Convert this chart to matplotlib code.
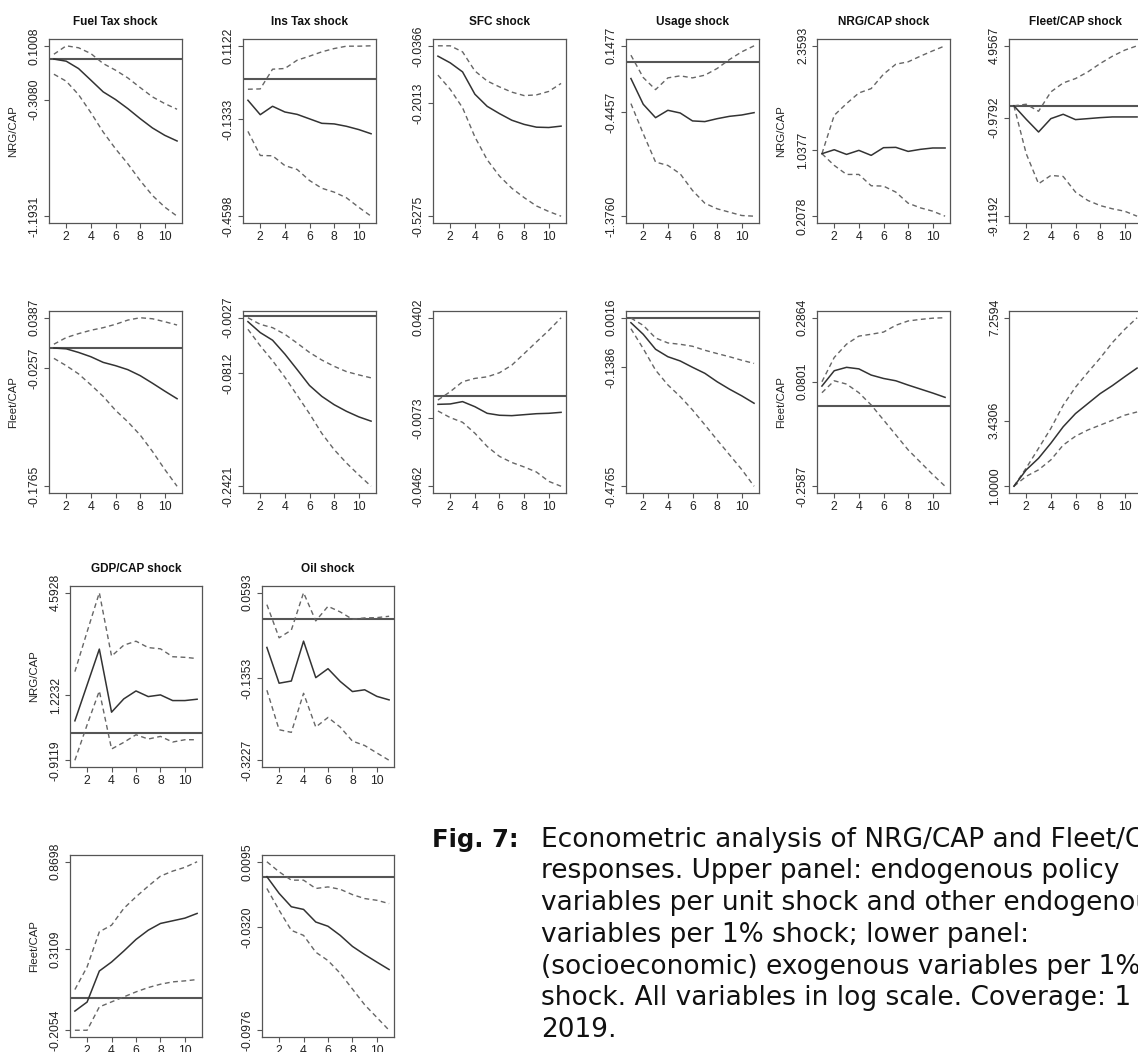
import matplotlib
matplotlib.use("Agg")
import matplotlib.pyplot as plt

steps = list(range(1, 12))

# ---- NRG/CAP responses (row 1) ----
fuel_nrg = [0.0, -0.016, -0.072, -0.160, -0.249, -0.307, -0.376, -0.452, -0.523, -0.579, -0.622]
fuel_nrg_hi = [0.037, 0.1008, 0.086, 0.042, -0.034, -0.084, -0.143, -0.216, -0.287, -0.338, -0.381]
fuel_nrg_lo = [-0.115, -0.168, -0.270, -0.407, -0.554, -0.681, -0.795, -0.922, -1.036, -1.124, -1.1931]

ins_nrg = [-0.0706, -0.119, -0.0908, -0.110, -0.118, -0.133, -0.148, -0.150, -0.158, -0.169, -0.183]
ins_nrg_hi = [-0.0336, -0.0325, 0.0337, 0.036, 0.064, 0.0774, 0.092, 0.103, 0.111, 0.111, 0.1122]
ins_nrg_lo = [-0.175, -0.256, -0.257, -0.290, -0.303, -0.340, -0.366, -0.379, -0.398, -0.430, -0.4598]

sfc_nrg = [-0.0664, -0.0857, -0.1117, -0.176, -0.211, -0.232, -0.251, -0.263, -0.271, -0.272, -0.268]
sfc_nrg_hi = [-0.0366, -0.0366, -0.054, -0.109, -0.138, -0.155, -0.170, -0.180, -0.178, -0.168, -0.145]
sfc_nrg_lo = [-0.121, -0.162, -0.215, -0.299, -0.365, -0.412, -0.447, -0.474, -0.498, -0.514, -0.5275]

usage_nrg = [-0.145, -0.375, -0.495, -0.429, -0.453, -0.524, -0.530, -0.504, -0.483, -0.471, -0.450]
usage_nrg_hi = [0.064, -0.136, -0.244, -0.139, -0.121, -0.139, -0.115, -0.055, 0.025, 0.094, 0.1477]
usage_nrg_lo = [-0.369, -0.638, -0.892, -0.922, -0.997, -1.146, -1.260, -1.310, -1.340, -1.370, -1.376]

nrg_nrg = [0.997, 1.047, 0.988, 1.039, 0.976, 1.073, 1.077, 1.026, 1.052, 1.069, 1.069]
nrg_nrg_hi = [0.997, 1.482, 1.630, 1.764, 1.819, 2.001, 2.127, 2.157, 2.229, 2.296, 2.3593]
nrg_nrg_lo = [0.997, 0.849, 0.735, 0.735, 0.592, 0.588, 0.512, 0.372, 0.313, 0.271, 0.2078]

fleet_nrg = [0.0, -1.115, -2.164, -1.06, -0.70, -1.14, -1.06, -0.977, -0.92, -0.92, -0.92]
fleet_nrg_hi = [0.0, 0.13, -0.45, 1.15, 1.89, 2.25, 2.80, 3.49, 4.10, 4.60, 4.9567]
fleet_nrg_lo = [0.0, -3.96, -6.44, -5.75, -5.84, -7.13, -7.82, -8.24, -8.51, -8.71, -9.1192]

# ---- Fleet/CAP responses (row 2) ----
fuel_fleet = [0.0, -0.001, -0.0056, -0.0111, -0.0183, -0.0225, -0.0276, -0.0352, -0.0449, -0.0550, -0.0647]
fuel_fleet_hi = [0.0049, 0.0134, 0.0184, 0.0227, 0.0260, 0.0303, 0.0357, 0.0387, 0.0374, 0.0336, 0.0294]
fuel_fleet_lo = [-0.0132, -0.0225, -0.0330, -0.0470, -0.0617, -0.0795, -0.0942, -0.111, -0.132, -0.155, -0.1765]

ins_fleet = [-0.0083, -0.0238, -0.0346, -0.0543, -0.0764, -0.0989, -0.1144, -0.1262, -0.1356, -0.1435, -0.1496]
ins_fleet_hi = [-0.0027, -0.0121, -0.0168, -0.0262, -0.0388, -0.0520, -0.0628, -0.0717, -0.0792, -0.0839, -0.0881]
ins_fleet_lo = [-0.0191, -0.0426, -0.0637, -0.0872, -0.113, -0.139, -0.167, -0.190, -0.209, -0.226, -0.2421]

sfc_fleet = [-0.0042, -0.0040, -0.0028, -0.0054, -0.0088, -0.0098, -0.0100, -0.0095, -0.0090, -0.0088, -0.0083]
sfc_fleet_hi = [-0.0020, 0.0023, 0.0074, 0.0091, 0.0099, 0.0120, 0.0159, 0.0218, 0.0278, 0.0337, 0.0402]
sfc_fleet_lo = [-0.0076, -0.0110, -0.0134, -0.0190, -0.0258, -0.0309, -0.0340, -0.0363, -0.0389, -0.0437, -0.0462]

usage_fleet = [-0.0125, -0.0454, -0.0878, -0.109, -0.121, -0.139, -0.156, -0.180, -0.201, -0.220, -0.241]
usage_fleet_hi = [0.0007, -0.0200, -0.0558, -0.0699, -0.0737, -0.0793, -0.0906, -0.100, -0.109, -0.119, -0.128]
usage_fleet_lo = [-0.0295, -0.0860, -0.147, -0.189, -0.222, -0.260, -0.302, -0.345, -0.387, -0.429, -0.4765]

nrg_fleet = [0.0654, 0.115, 0.126, 0.121, 0.101, 0.090, 0.0825, 0.0686, 0.0557, 0.0428, 0.0289]
nrg_fleet_hi = [0.0793, 0.158, 0.201, 0.227, 0.233, 0.240, 0.262, 0.276, 0.281, 0.285, 0.2864]
nrg_fleet_lo = [0.0439, 0.0825, 0.0718, 0.0439, 0.0042, -0.0441, -0.0924, -0.141, -0.181, -0.221, -0.2587]

fleet_fleet = [1.0, 1.61, 2.04, 2.60, 3.21, 3.70, 4.07, 4.44, 4.74, 5.07, 5.39]
fleet_fleet_hi = [1.0, 1.68, 2.41, 3.15, 4.01, 4.68, 5.23, 5.76, 6.34, 6.83, 7.2594]
fleet_fleet_lo = [1.0, 1.37, 1.61, 1.98, 2.53, 2.86, 3.09, 3.27, 3.45, 3.64, 3.76]

# ---- exogenous shocks (lower panel) ----
gdp_nrg = [0.385, 1.563, 2.740, 0.669, 1.105, 1.366, 1.181, 1.236, 1.050, 1.050, 1.094]
gdp_nrg_hi = [2.0, 3.31, 4.5928, 2.51, 2.87, 3.00, 2.79, 2.75, 2.49, 2.47, 2.43]
gdp_nrg_lo = [-0.9119, 0.254, 1.366, -0.541, -0.323, -0.072, -0.214, -0.127, -0.312, -0.236, -0.236]

oil_nrg = [-0.0655, -0.147, -0.142, -0.0511, -0.1343, -0.1139, -0.143, -0.166, -0.162, -0.177, -0.185]
oil_nrg_hi = [0.0321, -0.0435, -0.026, 0.0593, -0.005, 0.0283, 0.0155, -0.0012, 0.0018, 0.0025, 0.0056]
oil_nrg_lo = [-0.163, -0.253, -0.259, -0.170, -0.247, -0.225, -0.247, -0.279, -0.289, -0.306, -0.3227]

gdp_fleet = [-0.0829, -0.0254, 0.1726, 0.230, 0.300, 0.374, 0.433, 0.476, 0.493, 0.510, 0.540]
gdp_fleet_hi = [0.0544, 0.199, 0.423, 0.465, 0.572, 0.646, 0.714, 0.778, 0.810, 0.834, 0.8698]
gdp_fleet_lo = [-0.2054, -0.2054, -0.0564, -0.0244, 0.0075, 0.0394, 0.0671, 0.0884, 0.1033, 0.1097, 0.1182]

oil_fleet = [0.0, -0.0106, -0.0191, -0.0208, -0.0288, -0.0315, -0.0373, -0.0443, -0.0495, -0.0543, -0.0590]
oil_fleet_hi = [0.0095, 0.0031, -0.0022, -0.0022, -0.0075, -0.0065, -0.0080, -0.0114, -0.0139, -0.0150, -0.0171]
oil_fleet_lo = [-0.0075, -0.0213, -0.0341, -0.0373, -0.0480, -0.0533, -0.0614, -0.0714, -0.0814, -0.0895, -0.0976]

upper_titles = ["Fuel Tax shock", "Ins Tax shock", "SFC shock", "Usage shock", "NRG/CAP shock", "Fleet/CAP shock"]
lower_titles = ["GDP/CAP shock", "Oil shock"]

caption_lines = [
    "Econometric analysis of NRG/CAP and Fleet/CAP",
    "responses. Upper panel: endogenous policy",
    "variables per unit shock and other endogenous",
    "variables per 1% shock; lower panel:",
    "(socioeconomic) exogenous variables per 1%",
    "shock. All variables in log scale. Coverage: 1",
    "2019.",
]

W, H = 1138, 1052
fig = plt.figure(figsize=(W / 100, H / 100), dpi=100)
plt.rcParams['font.family'] = ['Liberation Sans', 'DejaVu Sans']


def panel(left, top, width, height, irf, lo, hi, ticks, title=None, ylabel=None, tickpos=None):
    ax = fig.add_axes([left / W, 1 - (top + height) / H, width / W, height / H])
    ax.axhline(0, color='#555555', lw=1.5, zorder=1)
    ax.plot(steps, hi, color='#666666', lw=1.0, dashes=(3.5, 2.5))
    ax.plot(steps, lo, color='#666666', lw=1.0, dashes=(3.5, 2.5))
    ax.plot(steps, irf, color='#333333', lw=1.1)
    vals = [float(t) for t in ticks]
    r = max(vals) - min(vals)
    ax.set_ylim(min(vals) - 0.04 * r, max(vals) + 0.04 * r)
    ax.set_xlim(0.6, 11.4)
    ax.set_xticks([2, 4, 6, 8, 10])
    ax.set_yticks(tickpos if tickpos else vals)
    ax.set_yticklabels(ticks)
    for lbl in ax.get_yticklabels():
        lbl.set_rotation(90)
        lbl.set_va('center')
    ax.tick_params(direction='out', length=3.6, width=0.8, color='#555555',
                   labelcolor='#222222', labelsize=8.8, pad=2.2)
    for s in ax.spines.values():
        s.set_color('#555555')
        s.set_linewidth(0.9)
    if title:
        ax.set_title(title, fontsize=8.5, fontweight='bold', pad=10, color='#111111')
    if ylabel:
        ax.set_ylabel(ylabel, fontsize=8.2, color='#222222')
        ax.yaxis.set_label_coords(-0.235, 0.5)
    return ax


cols = [49, 243, 433, 626, 817, 1009]
aw = 133

row1 = [
    (fuel_nrg, fuel_nrg_lo, fuel_nrg_hi, ["0.1008", "-0.3080", "-1.1931"], None),
    (ins_nrg, ins_nrg_lo, ins_nrg_hi, ["0.1122", "-0.1333", "-0.4598"], None),
    (sfc_nrg, sfc_nrg_lo, sfc_nrg_hi, ["-0.0366", "-0.2013", "-0.5275"], None),
    (usage_nrg, usage_nrg_lo, usage_nrg_hi, ["0.1477", "-0.4457", "-1.3760"], None),
    (nrg_nrg, nrg_nrg_lo, nrg_nrg_hi, ["2.3593", "1.0377", "0.2078"], None),
    (fleet_nrg, fleet_nrg_lo, fleet_nrg_hi, ["4.9567", "-0.9792", "-9.1192"], None),
]
row2 = [
    (fuel_fleet, fuel_fleet_lo, fuel_fleet_hi, ["0.0387", "-0.0257", "-0.1765"], None),
    (ins_fleet, ins_fleet_lo, ins_fleet_hi, ["-0.0027", "-0.0812", "-0.2421"], None),
    (sfc_fleet, sfc_fleet_lo, sfc_fleet_hi, ["0.0402", "-0.0073", "-0.0462"], [0.0402, -0.0113, -0.0462]),
    (usage_fleet, usage_fleet_lo, usage_fleet_hi, ["0.0016", "-0.1386", "-0.4765"], None),
    (nrg_fleet, nrg_fleet_lo, nrg_fleet_hi, ["0.2864", "0.0801", "-0.2587"], None),
    (fleet_fleet, fleet_fleet_lo, fleet_fleet_hi, ["7.2594", "3.4306", "1.0000"], None),
]

for i, (irf, lo, hi, ticks, tp) in enumerate(row1):
    panel(cols[i], 39, aw, 184, irf, lo, hi, ticks, title=upper_titles[i],
          ylabel="NRG/CAP" if i in (0, 4) else None, tickpos=tp)
for i, (irf, lo, hi, ticks, tp) in enumerate(row2):
    panel(cols[i], 311, aw, 182, irf, lo, hi, ticks,
          ylabel="Fleet/CAP" if i in (0, 4) else None, tickpos=tp)

low_cols = [70, 262]
panel(low_cols[0], 586, 132, 181, gdp_nrg, gdp_nrg_lo, gdp_nrg_hi, ["4.5928", "1.2232", "-0.9119"],
      title=lower_titles[0], ylabel="NRG/CAP")
panel(low_cols[1], 586, 132, 181, oil_nrg, oil_nrg_lo, oil_nrg_hi, ["0.0593", "-0.1353", "-0.3227"],
      title=lower_titles[1])
panel(low_cols[0], 855, 132, 182, gdp_fleet, gdp_fleet_lo, gdp_fleet_hi, ["0.8698", "0.3109", "-0.2054"],
      ylabel="Fleet/CAP")
panel(low_cols[1], 855, 132, 182, oil_fleet, oil_fleet_lo, oil_fleet_hi, ["0.0095", "-0.0320", "-0.0976"])

# caption, one text per line (runs past the right edge like the source)
fig.text(432 / W, 1 - 846.7 / H, "Fig. 7:", fontsize=17.5, fontweight='bold',
         family='DejaVu Sans', va='baseline', ha='left', color='#111111')
for k, line in enumerate(caption_lines):
    fig.text(541 / W, 1 - (846.7 + 31.7 * k) / H, line, fontsize=19,
             family='DejaVu Sans', va='baseline', ha='left', color='#111111')

fig.savefig("out.png", dpi=100)
